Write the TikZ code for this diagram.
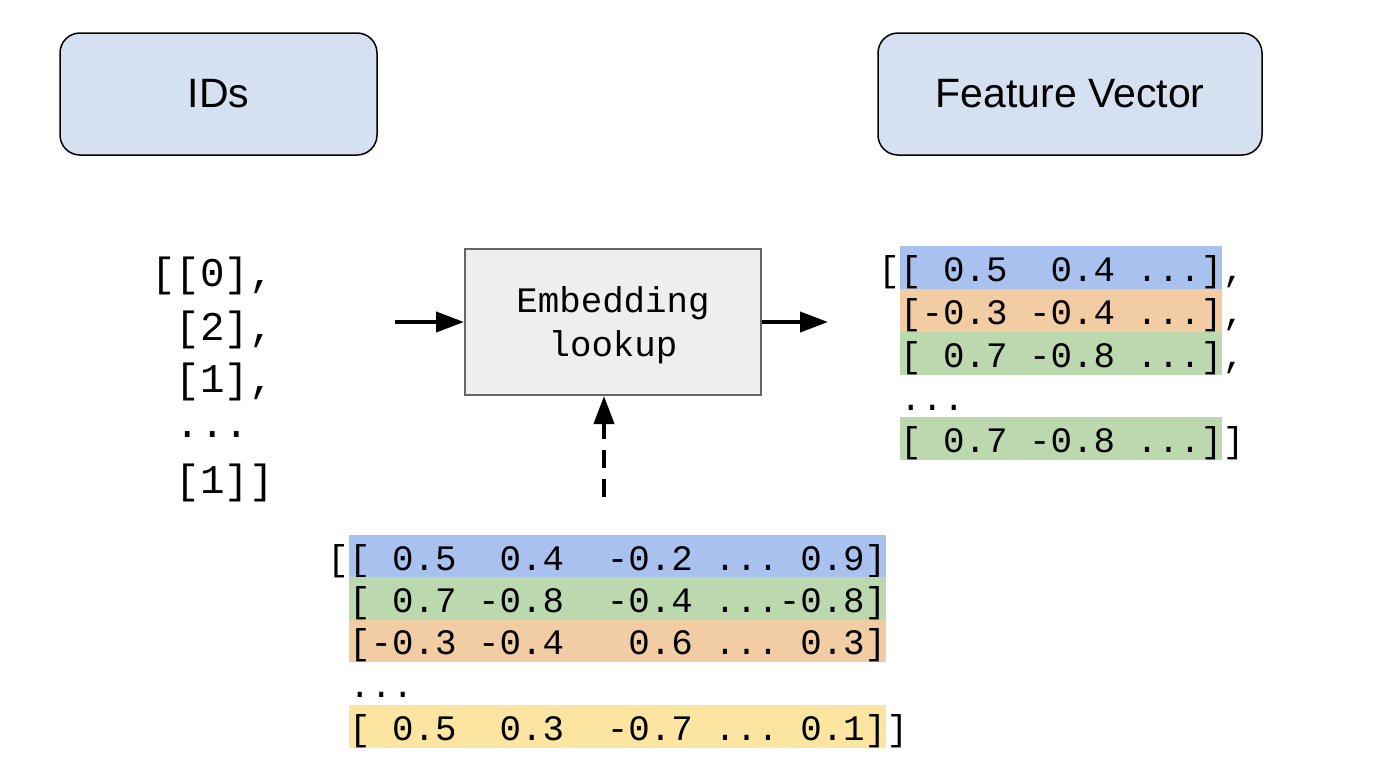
\documentclass[tikz,border=0pt]{standalone}
\usepackage{fontspec}
\setmainfont{Liberation Sans}
\newfontfamily\monofont{Liberation Mono}
\usetikzlibrary{arrows.meta}
\definecolor{bandblue}{HTML}{A9C1EE}
\definecolor{bandgreen}{HTML}{BBD8AE}
\definecolor{bandorange}{HTML}{F2CCA2}
\definecolor{bandyellow}{HTML}{FBE5A1}
\definecolor{topblue}{HTML}{D5E1F0}
\definecolor{boxgray}{HTML}{EEEEEE}
\definecolor{boxedge}{HTML}{666666}
\newcommand{\s}{\hphantom{0}}
\tikzset{
  mono/.style={font=\monofont\fontsize{35.8}{44}\selectfont, inner sep=0pt},
  band/.style={mono, fill=#1, text height=35pt, text depth=7.5pt, anchor=north west},
  after/.style={mono, anchor=base west},
  before/.style={mono, anchor=base east},
  idtxt/.style={font=\monofont\fontsize{40.8}{50}\selectfont, inner sep=0pt, anchor=base west},
  topbox/.style={draw=black, line width=1.5pt, rounded corners=20pt, fill=topblue,
    font=\fontsize{41}{48}\selectfont, inner sep=0pt},
  embbox/.style={draw=boxedge, line width=2pt, fill=boxgray, mono, align=center,
    minimum width=296pt, minimum height=146pt, text depth=0pt},
  arr/.style={line width=4pt, -{Triangle[length=28pt,width=20pt]}},
}
\begin{document}
\begin{tikzpicture}[x=1pt,y=-1pt]
\useasboundingbox (0,0) rectangle (1384,772);

% top boxes
\node[topbox, minimum width=317pt, minimum height=122pt] (ids) at (218.5,94) {IDs};
\node[topbox, minimum width=384pt, minimum height=122pt] (fv) at (1070,94) {Feature Vector};

% ids list
\node[idtxt] (id1) at (151,286) {[[0],};
\node[idtxt] (id2) at (151,340) {\s[2],};
\node[idtxt] (id3) at (151,392) {\s[1],};
\node[idtxt] (id4) at (151,437) {\s...};
\node[idtxt] (id5) at (151,493) {\s[1]]};

% embedding box
\node[embbox] (emb) at (613,322) {Embedding\\lookup};

% arrows
\coordinate (inL) at (395,322);
\coordinate (outR) at (828,322);
\coordinate (dashS) at (604,497);
\draw[arr] (inL) -- (emb.west);
\draw[arr] (emb.east) -- (outR);
\draw[arr, dash pattern=on 18pt off 11pt] (dashS) -- (dashS |- emb.south);

% feature vector matrix
\node[band=bandblue]   (f1) at (900,246) {[\s0.5\s\s0.4\s...]};
\node[band=bandorange] (f2) at (900,289) {[-0.3\s-0.4\s...]};
\node[band=bandgreen]  (f3) at (900,332) {[\s0.7\s-0.8\s...]};
\node[mono, anchor=base west] (f4) at (900,410) {...};
\node[band=bandgreen]  (f5) at (900,417) {[\s0.7\s-0.8\s...]};
\node[before] (fo) at (f1.base west) {[};
\node[after] (fc1) at (f1.base east) {,};
\node[after] (fc2) at (f2.base east) {,};
\node[after] (fc3) at (f3.base east) {,};
\node[after] (fc5) at (f5.base east) {]};

% embedding table
\node[band=bandblue]   (t1) at (349,535) {[\s0.5\s\s0.4\s\s-0.2\s...\s0.9]};
\node[band=bandgreen]  (t2) at (349,577) {[\s0.7\s-0.8\s\s-0.4\s...-0.8]};
\node[band=bandorange] (t3) at (349,619.5) {[-0.3\s-0.4\s\s\s0.6\s...\s0.3]};
\node[mono, anchor=base west] (t4) at (349,697) {...};
\node[band=bandyellow] (t5) at (349,705) {[\s0.5\s\s0.3\s\s-0.7\s...\s0.1]};
\node[before] (to) at (t1.base west) {[};
\node[after] (tc5) at (t5.base east) {]};
\end{tikzpicture}
\end{document}
